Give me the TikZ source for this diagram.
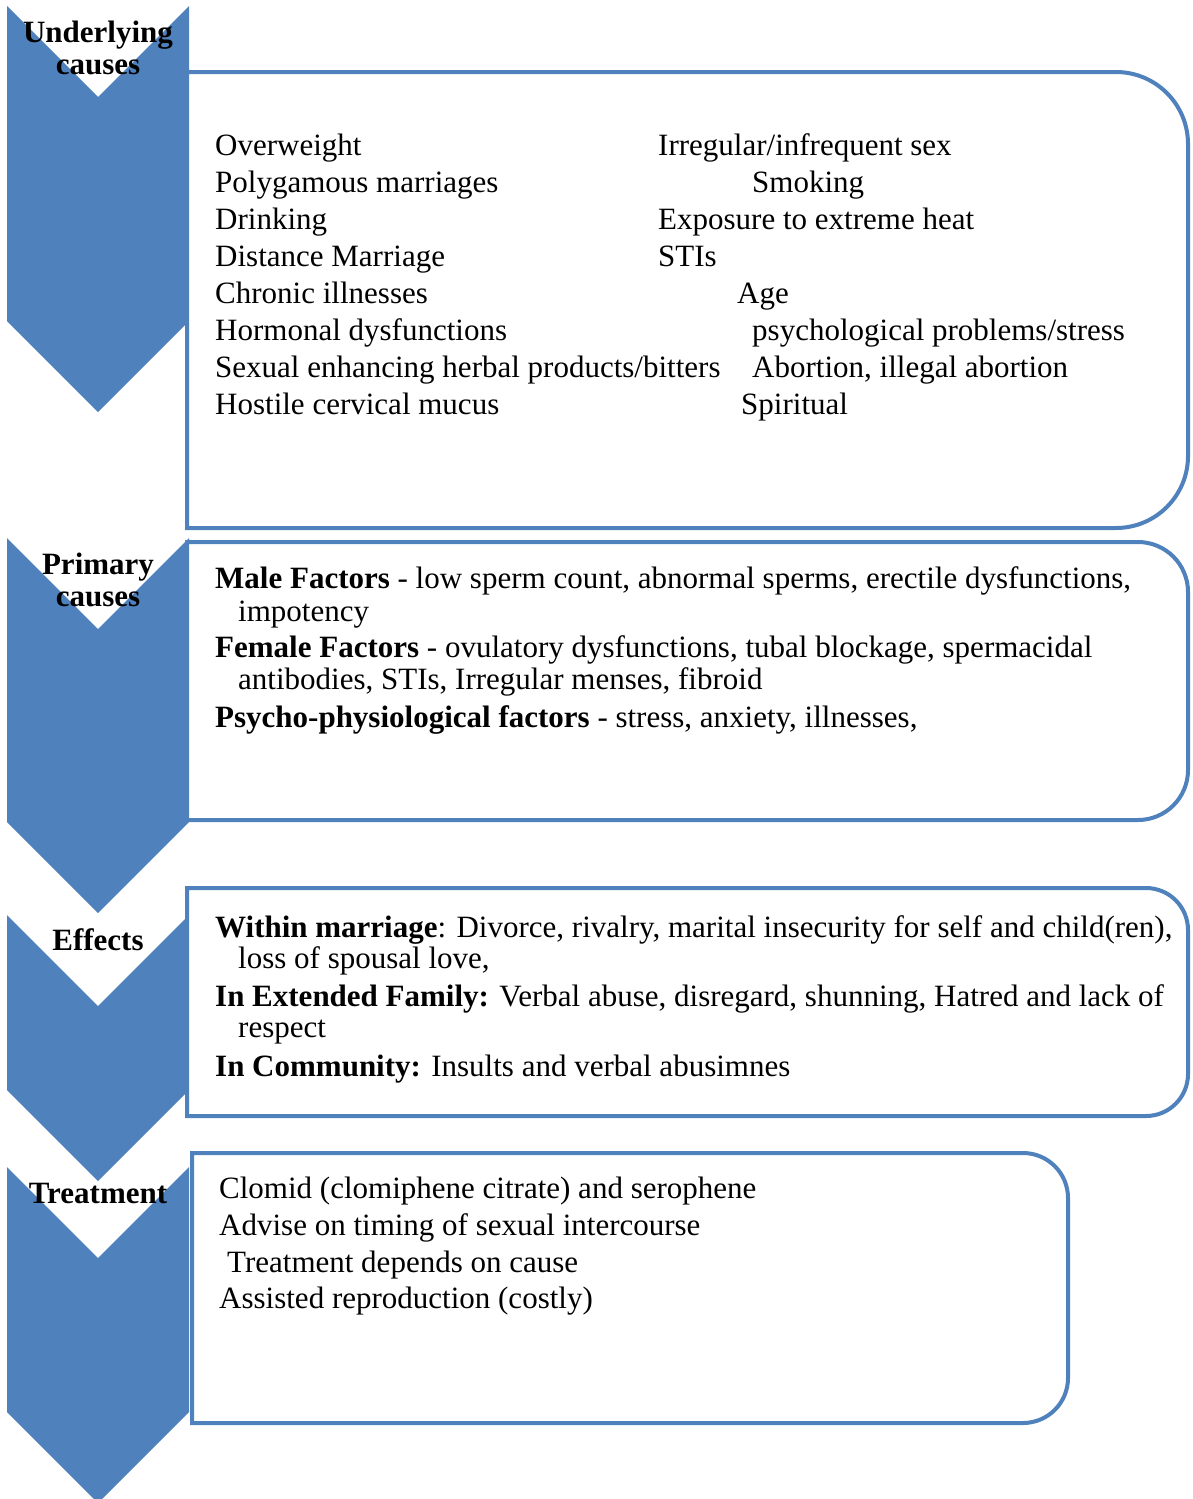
\documentclass[tikz,border=0pt]{standalone}
\usepackage{fontspec}
\setmainfont{Liberation Serif}
\usetikzlibrary{positioning}
\definecolor{chevblue}{HTML}{4F81BD}

\tikzset{
  chev/.style={fill=chevblue},
  listbox/.style={draw=chevblue, line width=4pt, fill=white},
  item/.style={anchor=base west, inner sep=0pt, font=\fontsize{31}{37}\selectfont},
  tag/.style={anchor=base, inner sep=0pt, font=\fontsize{31}{33}\selectfont\bfseries},
}

% chevron: top edge, end of the straight sides
\newcommand{\chevron}[2]{%
  \fill[chev] (7,#1) -- (98,#1+91) -- (189,#1) -- (189,#2) -- (98,#2+91) -- (7,#2) -- cycle;}
% box with rounded right side: left, top, right, bottom, radius
\newcommand{\sidebox}[5]{%
  \draw[listbox] (#1,#2) -- ({#3-#5},#2) arc[start angle=-90, end angle=0, radius=#5]
    -- (#3,{#4-#5}) arc[start angle=0, end angle=90, radius=#5] -- (#1,#4) -- cycle;}

\begin{document}
\begin{tikzpicture}[x=1pt, y=-1pt]
  \useasboundingbox (0,0) rectangle (1192,1499);

  % chevrons
  \chevron{6}{321}
  \chevron{538}{822}
  \chevron{915}{1090}
  \chevron{1167}{1412}

  % boxes
  \sidebox{187}{72}{1188}{528}{72}
  \sidebox{187}{542}{1188}{820}{50}
  \sidebox{187}{888}{1188}{1116}{42}
  \sidebox{192}{1153}{1068}{1423}{45}

  % chevron labels
  \node[tag] (under1) at (98,42) {Underlying};
  \node[tag] (under2) at (98,74) {causes};
  \node[tag] (prim1) at (98,574) {Primary};
  \node[tag] (prim2) at (98,606) {causes};
  \node[tag] (eff) at (98,950) {Effects};
  \node[tag] (treat) at (98,1203) {Treatment};

  % underlying causes
  \foreach \txt [count=\i] in {Overweight, Polygamous marriages, Drinking,
      Distance Marriage, Chronic illnesses, Hormonal dysfunctions,
      Sexual enhancing herbal products/bitters, Hostile cervical mucus}
    \node[item] (ucl\i) at (215,118+37*\i) {\txt};
  \foreach \xx/\txt [count=\i] in {658/Irregular{/}infrequent sex, 752/Smoking,
      658/Exposure to extreme heat, 658/STIs, 737/Age,
      752/psychological problems{/}stress, 752/{Abortion, illegal abortion}, 741/Spiritual}
    \node[item] (ucr\i) at (\xx,118+37*\i) {\txt};

  % primary causes
  \node[item] (male) at (215,588) {\textbf{Male Factors} - low sperm count, abnormal sperms, erectile dysfunctions,};
  \node[item] (male2) at (238,621) {impotency};
  \node[item] (female) at (215,657) {\textbf{Female Factors} - ovulatory dysfunctions, tubal blockage, spermacidal};
  \node[item] (female2) at (238,689) {antibodies, STIs, Irregular menses, fibroid};
  \node[item] (psycho) at (215,727) {\textbf{Psycho-physiological factors} - stress, anxiety, illnesses,};

  % effects
  \node[item] (within) at (215,937) {\textbf{Within marriage}: Divorce, rivalry, marital insecurity for self and child(ren),};
  \node[item] (within2) at (238,968) {loss of spousal love,};
  \node[item] (family) at (215,1006) {\textbf{In Extended Family:} Verbal abuse, disregard, shunning, Hatred and lack of};
  \node[item] (family2) at (238,1037) {respect};
  \node[item] (commu) at (215,1076) {\textbf{In Community:} Insults and verbal abusimnes};

  % treatment
  \node[item] (clomid) at (219,1198) {Clomid (clomiphene citrate) and serophene};
  \node[item] (advise) at (219,1235) {Advise on timing of sexual intercourse};
  \node[item] (depends) at (227,1272) {Treatment depends on cause};
  \node[item] (assist) at (219,1308) {Assisted reproduction (costly)};
\end{tikzpicture}
\end{document}
